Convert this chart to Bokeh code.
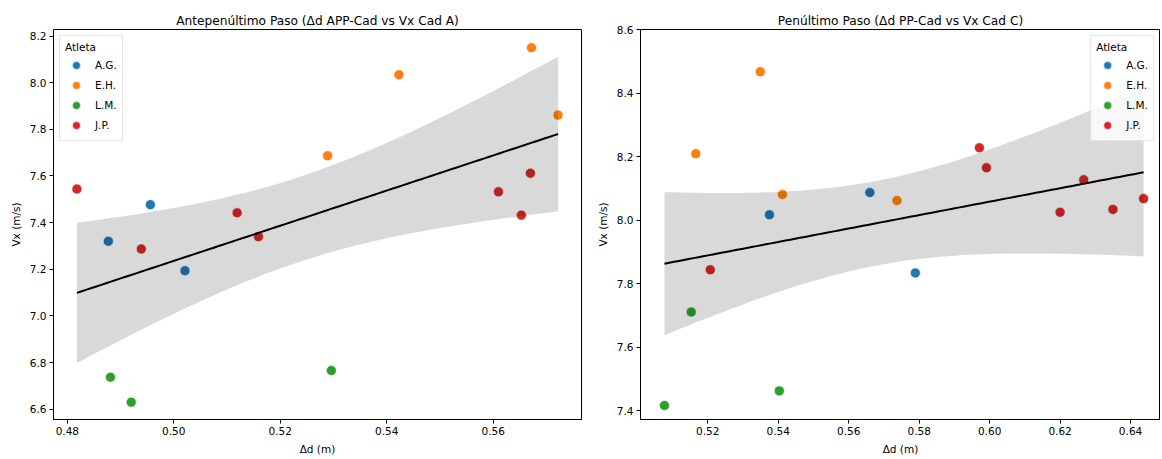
import numpy as np
from bokeh.plotting import figure
from bokeh.layouts import row
from bokeh.models import Range1d, FixedTicker, PrintfTickFormatter
from bokeh.embed import file_html
from bokeh.resources import INLINE

athletes = ["A.G.", "E.H.", "L.M.", "J.P."]
colors = ["#1f77b4", "#ff7f0e", "#2ca02c", "#d62728"]

# Antepenúltimo paso: Δd APP-Cad (m) vs Vx Cad A (m/s)
ag_x1 = [0.4877, 0.4956, 0.5021]
ag_y1 = [7.320, 7.477, 7.194]
eh_x1 = [0.5289, 0.5423, 0.5672, 0.5722]
eh_y1 = [7.687, 8.034, 8.150, 7.861]
lm_x1 = [0.4881, 0.4920, 0.5296]
lm_y1 = [6.737, 6.630, 6.766]
jp_x1 = [0.4818, 0.4939, 0.5119, 0.5159, 0.5610, 0.5653, 0.5670]
jp_y1 = [7.544, 7.287, 7.442, 7.340, 7.532, 7.432, 7.612]

# Penúltimo paso: Δd PP-Cad (m) vs Vx Cad C (m/s)
ag_x2 = [0.5375, 0.5660, 0.5789]
ag_y2 = [8.017, 8.087, 7.834]
eh_x2 = [0.5166, 0.5349, 0.5412, 0.5737]
eh_y2 = [8.209, 8.467, 8.081, 8.062]
lm_x2 = [0.5077, 0.5153, 0.5403]
lm_y2 = [7.417, 7.711, 7.463]
jp_x2 = [0.5207, 0.5971, 0.5991, 0.6200, 0.6267, 0.6350, 0.6437]
jp_y2 = [7.844, 8.228, 8.165, 8.025, 8.127, 8.034, 8.068]

x_ticks1 = [0.48, 0.50, 0.52, 0.54, 0.56]
y_ticks1 = [6.6, 6.8, 7.0, 7.2, 7.4, 7.6, 7.8, 8.0, 8.2]
x_ticks2 = [0.52, 0.54, 0.56, 0.58, 0.60, 0.62, 0.64]
y_ticks2 = [7.4, 7.6, 7.8, 8.0, 8.2, 8.4, 8.6]

T_CRIT = 2.131  # t(0.975, df=15)
FONT = "DejaVu Sans"


def make_panel(title, groups, xr, yr, xt, yt, legend_loc, width, bl, br):
    p = figure(width=width, height=457, output_backend="svg", toolbar_location=None,
               x_range=Range1d(*xr), y_range=Range1d(*yr),
               min_border_left=bl, min_border_right=br, min_border_top=29, min_border_bottom=0)
    p.title.text = title
    p.title.align = "center"
    p.title.text_font = FONT
    p.title.text_font_size = "12.2px"
    p.title.text_font_style = "normal"
    p.title.text_color = "black"
    p.title.standoff = 4
    p.grid.visible = False
    p.outline_line_color = "black"
    p.outline_line_width = 1
    p.outline_line_alpha = 1
    for ax, ticks, fmt in ((p.xaxis, xt, "%.2f"), (p.yaxis, yt, "%.1f")):
        ax.ticker = FixedTicker(ticks=ticks)
        ax.formatter = PrintfTickFormatter(format=fmt)
        ax.major_tick_in = 0
        ax.major_tick_out = 4
        ax.minor_tick_line_color = None
        ax.major_label_text_font = FONT
        ax.major_label_text_font_size = "10.5px"
        ax.major_label_text_color = "black"
        ax.axis_label_text_font = FONT
        ax.axis_label_text_font_size = "10.5px"
        ax.axis_label_text_font_style = "normal"
        ax.axis_label_text_color = "black"
        ax.axis_line_color = "black"
        ax.major_tick_line_color = "black"
        ax.axis_label_standoff = 5
        ax.major_label_standoff = 3
    p.xaxis.axis_label = "Δd (m)"
    p.yaxis.axis_label = "Vx (m/s)"

    all_x, all_y = [], []
    for name, col, (gx, gy) in zip(athletes, colors, groups):
        p.scatter(gx, gy, size=10, fill_color=col, line_color="white", line_width=0.6,
                  legend_label=name)
        all_x += gx
        all_y += gy
    x = np.array(all_x)
    y = np.array(all_y)
    n = len(x)
    b, a = np.polyfit(x, y, 1)
    xs = np.linspace(x.min(), x.max(), 100)
    yh = a + b * xs
    resid = y - (a + b * x)
    s = np.sqrt(np.sum(resid ** 2) / (n - 2))
    sxx = np.sum((x - x.mean()) ** 2)
    se = s * np.sqrt(1.0 / n + (xs - x.mean()) ** 2 / sxx)
    p.varea(x=xs, y1=yh - T_CRIT * se, y2=yh + T_CRIT * se, fill_color="black", fill_alpha=0.15)
    p.line(xs, yh, line_color="black", line_width=2)

    lg = p.legend[0]
    lg.location = legend_loc
    lg.title = "Atleta"
    lg.title_text_font = FONT
    lg.title_text_font_size = "10.5px"
    lg.title_text_font_style = "normal"
    lg.title_text_color = "black"
    lg.title_standoff = 2
    lg.label_text_font = FONT
    lg.label_text_font_size = "10.5px"
    lg.label_text_color = "black"
    lg.glyph_height = 20
    lg.glyph_width = 22
    lg.label_height = 14
    lg.spacing = 0
    lg.padding = 5
    lg.margin = 6
    lg.label_standoff = 8
    lg.border_line_color = "#cccccc"
    lg.background_fill_alpha = 0.8
    return p


p1 = make_panel("Antepenúltimo Paso (Δd APP-Cad vs Vx Cad A)",
                [(ag_x1, ag_y1), (eh_x1, eh_y1), (lm_x1, lm_y1), (jp_x1, jp_y1)],
                (0.4774, 0.5766), (6.556, 8.228), x_ticks1, y_ticks1, "top_left", 583, 53, 2)
p2 = make_panel("Penúltimo Paso (Δd PP-Cad vs Vx Cad C)",
                [(ag_x2, ag_y2), (eh_x2, eh_y2), (lm_x2, lm_y2), (jp_x2, jp_y2)],
                (0.5009, 0.6485), (7.373, 8.6), x_ticks2, y_ticks2, "top_right", 577, 57, 0)

layout = row(p1, p2, spacing=0)
open("out.html", "w").write(file_html(layout, INLINE))
